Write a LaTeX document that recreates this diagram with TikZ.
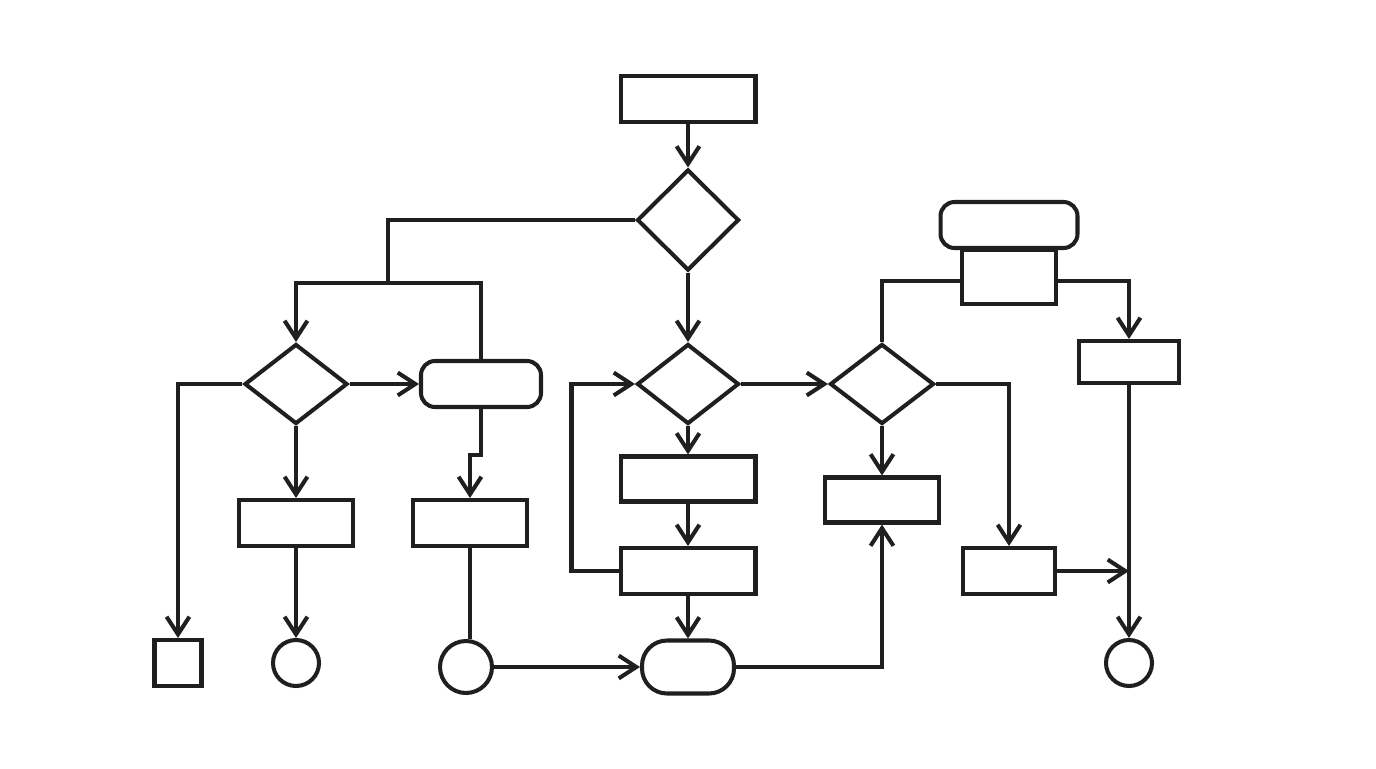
\documentclass[tikz,border=0pt]{standalone}
\usetikzlibrary{shapes.geometric,arrows.meta}

\begin{document}
\begin{tikzpicture}[x=0.02cm,y=-0.02cm,line width=2.3pt,draw=black!88,
	box/.style={draw,rectangle,inner sep=0pt},
	rbox/.style={draw,rectangle,rounded corners=0.28cm,inner sep=0pt},
	decision/.style={draw,diamond,inner sep=0pt},
	dot/.style={draw,circle,inner sep=0pt},
	arr/.style={-{Straight Barb[length=10pt,width=13pt]}}]
			\useasboundingbox (0,0) rectangle (1376,768);
			% centre column
			\node[box,minimum width=2.7cm,minimum height=0.92cm] (start) at (688,99) {};
			\node[decision,minimum width=2.04cm,minimum height=2.02cm] (d1) at (688,220) {};
			\node[decision,minimum width=2.04cm,minimum height=1.6cm] (d2) at (688,384) {};
			\node[box,minimum width=2.7cm,minimum height=0.9cm] (c1) at (688,479) {};
			\node[box,minimum width=2.7cm,minimum height=0.92cm] (c2) at (688,571) {};
			\node[draw,rectangle,rounded corners=0.5cm,minimum width=1.84cm,minimum height=1.06cm] (stad) at (688,667) {};
			% left part
			\node[decision,minimum width=2.06cm,minimum height=1.6cm] (dl) at (296,384) {};
			\node[rbox,minimum width=2.4cm,minimum height=0.92cm] (rl) at (481,384) {};
			\node[box,minimum width=2.28cm,minimum height=0.92cm] (bl) at (296,523) {};
			\node[box,minimum width=2.28cm,minimum height=0.92cm] (b2) at (470,523) {};
			\node[box,minimum width=0.94cm,minimum height=0.92cm] (sq) at (178,663) {};
			\node[dot,minimum size=0.92cm] (cl) at (296,663) {};
			\node[dot,minimum size=1.04cm] (cm) at (466,667) {};
			\coordinate (j1) at (388,283);
			\coordinate (kink) at (481,455);
			% right part
			\node[decision,minimum width=2.08cm,minimum height=1.6cm] (dr) at (882,384) {};
			\node[box,minimum width=2.28cm,minimum height=0.9cm] (r1) at (882,500) {};
			\node[box,minimum width=1.84cm,minimum height=0.92cm] (r2) at (1009,571) {};
			\node[rbox,minimum width=2.74cm,minimum height=0.92cm] (tr) at (1009,225) {};
			\node[box,minimum width=1.88cm,minimum height=1.08cm] (tb) at (1009,277) {};
			\node[box,minimum width=2cm,minimum height=0.84cm] (rr) at (1129,362) {};
			\node[dot,minimum size=0.92cm] (cr) at (1129,663) {};
			% connectors
			\draw[arr] (start) -- (d1);
			\draw[arr] (d1) -- (d2);
			\draw (d1.west) -| (j1);
			\draw[arr] (j1) -| (dl.north);
			\draw (j1) -| (rl.north);
			\draw[arr] (dl.east) -- (rl.west);
			\draw[arr] (dl.west) -| (sq.north);
			\draw[arr] (dl) -- (bl);
			\draw[arr] (bl) -- (cl);
			\draw[arr] (rl.south) -- (kink) -| (b2.north);
			\draw (b2.south) -- (b2.south |- cm.north);
			\draw[arr] (cm.east) -- (stad.west);
			\draw[arr] (d2) -- (c1);
			\draw[arr] (c1) -- (c2);
			\draw[arr] (c2) -- (stad);
			\draw[arr] (c2.west) -- ++(-47,0) |- (d2.west);
			\draw[arr] (d2.east) -- (dr.west);
			\draw[arr] (stad.east) -| (r1.south);
			\draw[arr] (dr) -- (r1);
			\draw[arr] (dr.east) -| (r2.north);
			\draw (dr.north) |- ([yshift=-0.08cm]tb.west);
			\draw[arr] ([yshift=-0.08cm]tb.east) -| (rr.north);
			\draw[arr] (rr) -- (cr);
			\draw[arr] (r2.east) -- (r2.east -| rr.south);
\end{tikzpicture}
\end{document}
